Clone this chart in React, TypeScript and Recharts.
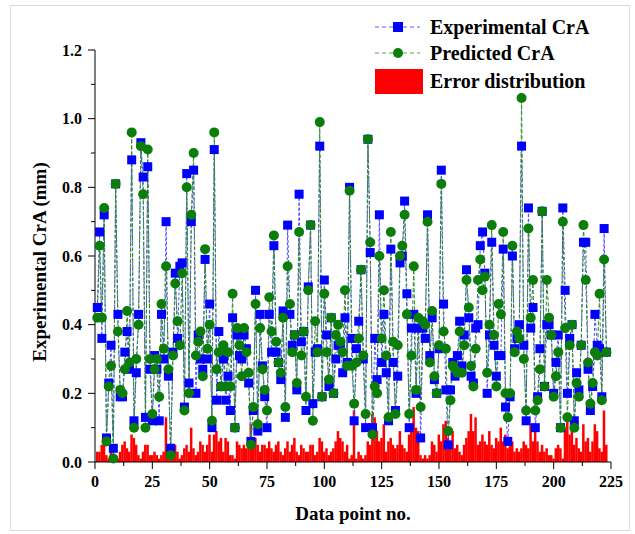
import { ComposedChart, Line, Bar, XAxis, YAxis, Legend } from "recharts";

// measured crater depth, points 1..223
const experimental = [
  0.45, 0.67, 0.36, 0.72, 0.07, 0.23, 0.34, 0.04, 0.81, 0.43, 0.19, 0.19, 0.32, 0.38, 0.27, 0.88, 0.12, 0.26, 0.43, 0.93, 0.83, 0.13, 0.86, 0.27, 0.12, 0.31,
  0.27, 0.12, 0.43, 0.3, 0.7, 0.25, 0.04, 0.32, 0.55, 0.36, 0.57, 0.58, 0.16, 0.84, 0.23, 0.7, 0.85, 0.2, 0.37, 0.3, 0.27, 0.59, 0.3, 0.46, 0.1, 0.91, 0.18, 0.38, 0.22, 0.3,
  0.18, 0.25, 0.15, 0.42, 0.1, 0.37, 0.31, 0.3, 0.37, 0.33, 0.23, 0.06, 0.15, 0.5, 0.09, 0.43, 0.28, 0.19, 0.1, 0.43, 0.32, 0.63, 0.32, 0.29, 0.24, 0.44, 0.13, 0.69,
  0.43, 0.34, 0.37, 0.21, 0.78, 0.35, 0.38, 0.15, 0.51, 0.69, 0.17, 0.32, 0.33, 0.92, 0.19, 0.53, 0.37, 0.22, 0.42, 0.2, 0.3, 0.34, 0.34, 0.26, 0.42, 0.29, 0.8, 0.36, 0.12,
  0.33, 0.41, 0.56, 0.3, 0.1, 0.94, 0.61, 0.1, 0.36, 0.24, 0.72, 0.29, 0.43, 0.26, 0.12, 0.62, 0.29, 0.15, 0.25, 0.58, 0.6, 0.76, 0.49, 0.1, 0.39, 0.43, 0.2,
  0.39, 0.07, 0.39, 0.36, 0.72, 0.31, 0.42, 0.24, 0.2, 0.33, 0.85, 0.46, 0.21, 0.05, 0.21, 0.29, 0.25, 0.31, 0.41, 0.28, 0.37, 0.56, 0.42, 0.25, 0.23, 0.39, 0.4, 0.63, 0.67,
  0.55, 0.2, 0.37, 0.64, 0.34, 0.25, 0.31, 0.31, 0.62, 0.16, 0.06, 0.19, 0.6, 0.33, 0.36, 0.4, 0.92, 0.34, 0.12, 0.74, 0.39, 0.45, 0.1, 0.19, 0.33, 0.73, 0.22, 0.4,
  0.4, 0.37, 0.2, 0.29, 0.37, 0.1, 0.74, 0.5, 0.2, 0.36, 0.4, 0.12, 0.26, 0.21, 0.34, 0.64, 0.64, 0.27, 0.15, 0.22, 0.43, 0.34, 0.33, 0.19, 0.68, 0.32,
];

const predicted = [
  0.42, 0.63, 0.42, 0.74, 0.06, 0.22, 0.28, 0.01, 0.81, 0.38, 0.21, 0.2, 0.27, 0.44, 0.29, 0.96, 0.1, 0.3, 0.4, 0.92, 0.78, 0.1, 0.91, 0.3, 0.14, 0.27,
  0.3, 0.19, 0.46, 0.33, 0.57, 0.27, 0.02, 0.31, 0.52, 0.41, 0.34, 0.55, 0.15, 0.8, 0.2, 0.72, 0.9, 0.31, 0.35, 0.38, 0.25, 0.62, 0.33, 0.4, 0.12, 0.96, 0.27, 0.32, 0.22, 0.34,
  0.22, 0.32, 0.22, 0.49, 0.1, 0.39, 0.34, 0.25, 0.39, 0.32, 0.26, 0.05, 0.16, 0.46, 0.11, 0.39, 0.27, 0.21, 0.15, 0.48, 0.38, 0.66, 0.35, 0.29, 0.26, 0.42, 0.16, 0.57,
  0.46, 0.32, 0.37, 0.23, 0.67, 0.31, 0.38, 0.19, 0.5, 0.69, 0.12, 0.41, 0.32, 0.99, 0.19, 0.49, 0.32, 0.24, 0.42, 0.2, 0.37, 0.4, 0.35, 0.32, 0.5, 0.28, 0.79, 0.28, 0.17,
  0.29, 0.36, 0.56, 0.31, 0.14, 0.94, 0.64, 0.08, 0.22, 0.2, 0.6, 0.36, 0.5, 0.31, 0.13, 0.67, 0.35, 0.14, 0.34, 0.6, 0.63, 0.72, 0.43, 0.14, 0.31, 0.57, 0.21,
  0.42, 0.16, 0.41, 0.4, 0.7, 0.29, 0.44, 0.25, 0.2, 0.34, 0.81, 0.38, 0.33, 0.09, 0.18, 0.28, 0.27, 0.26, 0.38, 0.26, 0.34, 0.53, 0.45, 0.28, 0.22, 0.33, 0.53, 0.59, 0.5,
  0.54, 0.26, 0.4, 0.69, 0.37, 0.22, 0.46, 0.43, 0.67, 0.2, 0.13, 0.2, 0.63, 0.32, 0.38, 0.36, 1.06, 0.3, 0.15, 0.68, 0.42, 0.53, 0.15, 0.18, 0.27, 0.73, 0.22, 0.53,
  0.42, 0.37, 0.19, 0.25, 0.32, 0.1, 0.7, 0.39, 0.13, 0.34, 0.4, 0.1, 0.23, 0.19, 0.34, 0.69, 0.53, 0.29, 0.17, 0.23, 0.32, 0.31, 0.49, 0.18, 0.59, 0.32,
];

const errorDist = [
  0.03, 0.03, 0.05, 0.06, 0.02, 0.01, 0.05, 0.01,
  0.02, 0.01, 0.03, 0.05, 0.06, 0.04, 0.03, 0.08,
  0.07, 0.05, 0.02, 0.01, 0.03, 0.05, 0.05, 0.02,
  0.02, 0.03, 0.02, 0.01, 0.02, 0.03, 0.13, 0.03,
  0.01, 0.02, 0.05, 0.03, 0.01, 0.02, 0.04, 0.05,
  0.03, 0.1, 0.04, 0.02, 0.03, 0.06, 0.05, 0.03,
  0.05, 0.08, 0.03, 0.08, 0.09, 0.06, 0.07, 0.03,
  0.07, 0.06, 0.02, 0.02, 0.01, 0.06, 0.05, 0.04,
  0.05, 0.04, 0.06, 0.11, 0.06, 0.07, 0.05, 0.03,
  0.05, 0.05, 0.04, 0.06, 0.04, 0.03, 0.05, 0.06,
  0.03, 0.02, 0.04, 0.06, 0.03, 0.05, 0.07, 0.03,
  0.02, 0.05, 0.04, 0.03, 0.03, 0.05, 0.05, 0.02,
  0.03, 0.07, 0.06, 0.03, 0.04, 0.02, 0.03, 0.04,
  0.06, 0.09, 0.07, 0.06, 0.03, 0.05, 0.01, 0.02,
  0.15, 0.01, 0.03, 0.02, 0.01, 0.02, 0.06, 0.05,
  0.14, 0.13, 0.09, 0.06, 0.07, 0.11, 0.03, 0.06,
  0.07, 0.05, 0.04, 0.05, 0.09, 0.05, 0.04, 0.03,
  0.08, 0.1, 0.16, 0.1, 0.09, 0.02, 0.01, 0.02,
  0.01, 0.02, 0.06, 0.05, 0.03, 0.08, 0.06, 0.11,
  0.12, 0.07, 0.06, 0.09, 0.04, 0.05, 0.03, 0.02,
  0.05, 0.07, 0.09, 0.14, 0.09, 0.13, 0.05, 0.06,
  0.08, 0.06, 0.05, 0.09, 0.05, 0.04, 0.07, 0.06,
  0.1, 0.06, 0.08, 0.04, 0.05, 0.06, 0.03, 0.04,
  0.03, 0.04, 0.06, 0.05, 0.04, 0.11, 0.06, 0.09,
  0.06, 0.03, 0.05, 0.03, 0.04, 0.02, 0.02, 0.01,
  0.04, 0.05, 0.04, 0.01, 0.1, 0.12, 0.08, 0.1,
  0.05, 0.07, 0.04, 0.03, 0.11, 0.06, 0.07, 0.03,
  0.06, 0.11, 0.09, 0.04, 0.03, 0.15, 0.05,
];

const xTicks = [0, 12.5, 25, 37.5, 50, 62.5, 75, 87.5, 100, 112.5, 125, 137.5, 150, 162.5, 175, 187.5, 200, 212.5, 225];
const yTicks = [0, 0.1, 0.2, 0.3, 0.4, 0.5, 0.6, 0.7, 0.8, 0.9, 1.0, 1.1, 1.2];

const data = experimental.map((v, i) => ({
  n: i + 1,
  exp: v,
  pred: predicted[i],
  err: errorDist[i],
}));

const serif = '"Liberation Serif", "Times New Roman", serif';
const BLUE = "#0000ff";
const GREEN = "#0b7d0b";

function YTick(props: any) {
  const { x, y, payload } = props;
  const major = Math.round(payload.value * 10) % 2 === 0;
  return (
    <g>
      <line x1={x - (major ? 7 : 4)} x2={x} y1={y} y2={y} stroke="#000" strokeWidth={1} />
      {major && (
        <text x={x - 13} y={y} dy="0.35em" textAnchor="end" fontFamily={serif} fontWeight="bold" fontSize={16} fill="#000">
          {payload.value.toFixed(1)}
        </text>
      )}
    </g>
  );
}

function XTick(props: any) {
  const { x, y, payload } = props;
  const major = payload.value % 25 === 0;
  return (
    <g>
      <line x1={x} x2={x} y1={y} y2={y + (major ? 7 : 4)} stroke="#000" strokeWidth={1} />
      {major && (
        <text x={x} y={y + 14} dy="0.71em" textAnchor="middle" fontFamily={serif} fontWeight="bold" fontSize={16} fill="#000">
          {payload.value}
        </text>
      )}
    </g>
  );
}

function renderSquare(p: any) {
  const { cx, cy, index } = p;
  if (cx == null || cy == null) return <g key={`sq-${index}`} />;
  return <rect key={`sq-${index}`} x={cx - 4.5} y={cy - 4.5} width={9} height={9} fill={BLUE} />;
}

// keep the bar's scaled position and height, widen it to fill its slot
function ErrorBarShape(p: any) {
  const { x, y, width, height } = p;
  if (height == null || height <= 0) return <g />;
  const w = 2.5;
  return <rect x={x + width / 2 - w / 2} y={y} width={w} height={height} fill="#ff0000" />;
}

function LegendBox() {
  const rows = [
    { label: "Experimental CrA", kind: "square" },
    { label: "Predicted CrA", kind: "circle" },
    { label: "Error distribution", kind: "bar" },
  ];
  return (
    <svg width={250} height={90}>
      {rows.map((r, i) => {
        const cy = [15, 41, 69][i];
        return (
          <g key={r.label}>
            {r.kind === "square" && (
              <g>
                <line x1={5} x2={50} y1={cy} y2={cy} stroke="#5a5aff" strokeDasharray="4 3" />
                <rect x={23} y={cy - 5} width={10} height={10} fill={BLUE} />
              </g>
            )}
            {r.kind === "circle" && (
              <g>
                <line x1={5} x2={50} y1={cy} y2={cy} stroke="#5aa05a" strokeDasharray="4 3" />
                <circle cx={28} cy={cy} r={5} fill={GREEN} />
              </g>
            )}
            {r.kind === "bar" && <rect x={5} y={cy - 12} width={48} height={25} fill="#ff0000" />}
            <text x={60} y={cy} dy="0.35em" fontFamily={serif} fontWeight="bold" fontSize={20} fill="#000">
              {r.label}
            </text>
          </g>
        );
      })}
    </svg>
  );
}

export default function App() {
  return (
    <div style={{ position: "absolute", left: 0, top: 0, width: 635, height: 534, background: "#fff" }}>
      <div
        style={{
          position: "absolute",
          left: 10,
          top: 5,
          width: 620,
          height: 526,
          border: "1px solid #dcdcdc",
          boxSizing: "border-box",
        }}
      />
      <div style={{ position: "absolute", left: 0, top: 0 }}>
        <ComposedChart
          width={635}
          height={534}
          data={data}
          margin={{ top: 50, right: 24, bottom: 42, left: 0 }}
          barCategoryGap={0}
          barGap={0}
        >
          <XAxis
            dataKey="n"
            type="number"
            domain={[0, 225]}
            ticks={xTicks}
            interval={0}
            height={30}
            tick={<XTick />}
            tickLine={false}
            tickSize={0}
            tickMargin={0}
            axisLine={{ stroke: "#000", strokeWidth: 1 }}
            label={{
              content: ({ viewBox }: any) => (
                <text
                  x={viewBox.x + viewBox.width / 2}
                  y={viewBox.y + 58}
                  textAnchor="middle"
                  fontFamily={serif}
                  fontWeight="bold"
                  fontSize={19}
                  fill="#000"
                >
                  Data point no.
                </text>
              ),
            }}
          />
          <YAxis
            type="number"
            domain={[0, 1.2]}
            ticks={yTicks}
            interval={0}
            width={95}
            tick={<YTick />}
            tickLine={false}
            tickSize={0}
            tickMargin={0}
            axisLine={{ stroke: "#000", strokeWidth: 1 }}
            label={{
              content: ({ viewBox }: any) => {
                const cx = viewBox.x + 39;
                const cy = viewBox.y + viewBox.height / 2 + 6;
                return (
                  <text
                    x={cx}
                    y={cy}
                    transform={`rotate(-90, ${cx}, ${cy})`}
                    textAnchor="middle"
                    dominantBaseline="central"
                    fontFamily={serif}
                    fontWeight="bold"
                    fontSize={19}
                    fill="#000"
                  >
                    Experimental CrA (mm)
                  </text>
                );
              },
            }}
          />
          <Line
            dataKey="exp"
            stroke="#4d4dff"
            strokeWidth={1}
            strokeDasharray="3 2"
            dot={renderSquare}
            activeDot={false}
            isAnimationActive={false}
          />
          <Bar dataKey="err" fill="#ff0000" shape={ErrorBarShape} isAnimationActive={false} />
          <Line
            dataKey="pred"
            stroke="#2e8a2e"
            strokeWidth={1}
            strokeDasharray="4 2"
            dot={{ r: 5, fill: GREEN, stroke: GREEN, strokeWidth: 0 }}
            activeDot={false}
            isAnimationActive={false}
          />
          <Legend
            layout="vertical"
            align="center"
            verticalAlign="middle"
            content={<LegendBox />}
            wrapperStyle={{ left: 370, top: 12, width: 250, height: 90 }}
          />
        </ComposedChart>
      </div>
    </div>
  );
}
